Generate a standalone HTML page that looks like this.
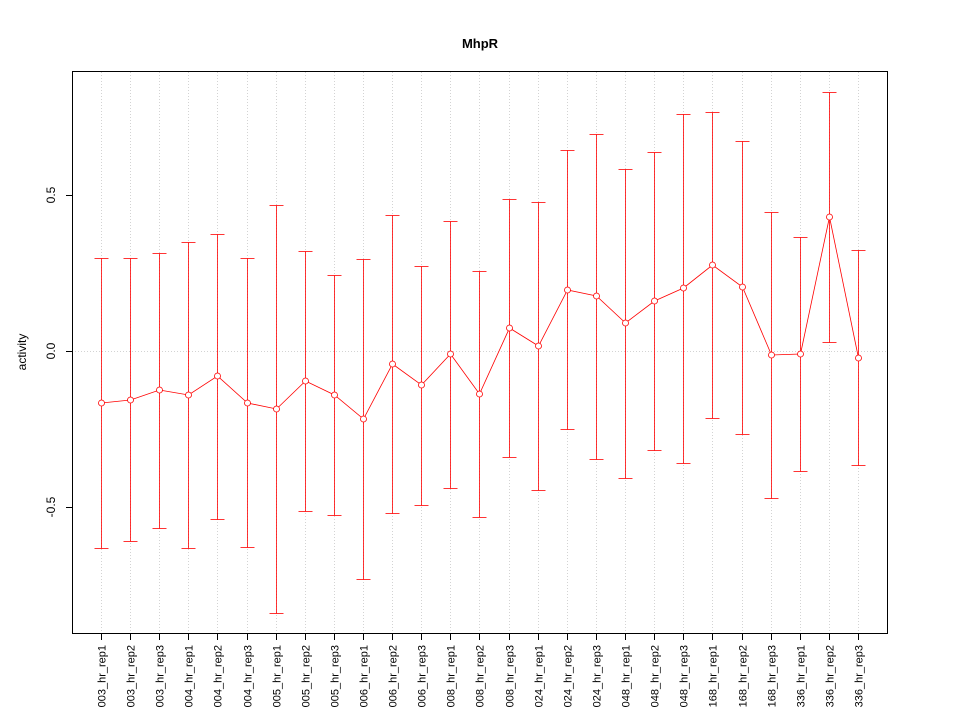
<!DOCTYPE html>
<html><head><style>body{margin:0;background:#fff}svg{display:block}text{font-family:"Liberation Sans",sans-serif}</style></head>
<body>
<svg id="s" width="960" height="720" xmlns="http://www.w3.org/2000/svg">
<rect width="960" height="720" fill="#fff"/>
<text x="480" y="48" text-anchor="middle" font-size="13" font-weight="bold">MhpR</text>
<text transform="translate(26,352) rotate(-90)" text-anchor="middle" font-size="12">activity</text>
<g id="g"></g>
<rect x="72.5" y="71.5" width="815" height="562" fill="none" stroke="#000"/>
</svg>
<script>
var labels=["003_hr_rep1","003_hr_rep2","003_hr_rep3","004_hr_rep1","004_hr_rep2","004_hr_rep3","005_hr_rep1","005_hr_rep2","005_hr_rep3","006_hr_rep1","006_hr_rep2","006_hr_rep3","008_hr_rep1","008_hr_rep2","008_hr_rep3","024_hr_rep1","024_hr_rep2","024_hr_rep3","048_hr_rep1","048_hr_rep2","048_hr_rep3","168_hr_rep1","168_hr_rep2","168_hr_rep3","336_hr_rep1","336_hr_rep2","336_hr_rep3"];
var d=[[403,258,548],[400,258,541],[390,253,528],[395,242,548],[376,234,519],[403,258,547],[409,205,613],[381,251,511],[395,275,515],[419,259,579],[364,215,513],[385,266,505],[354,221,488],[394,271,517],[328,199,457],[346,202,490],[290,150,429],[296,134,459],[323,169,478],[301,152,450],[288,114,463],[265,112,418],[287,141,434],[355,212,498],[354,237,471],[217,92,342],[358,250,465]];
var h='';
h+='<line x1="72" x2="888" y1="351.5" y2="351.5" stroke="#d3d3d3" stroke-dasharray="1,2"/>';
var pts=[];
function X(i){return Math.round(101+i*29.115)+0.5;}
for(var i=0;i<27;i++){var x=X(i);
h+='<line x1="'+x+'" x2="'+x+'" y1="72" y2="633" stroke="#d3d3d3" stroke-dasharray="1,2"/>';
h+='<line x1="'+x+'" x2="'+x+'" y1="634" y2="640" stroke="#000"/>';
h+='<text transform="translate('+(x+4)+',645) rotate(-90)" text-anchor="end" font-size="11">'+labels[i]+'</text>';
var p=d[i];pts.push(x+','+p[0]);
h+='<line x1="'+x+'" x2="'+x+'" y1="'+(p[1]+.5)+'" y2="'+(p[2]+.5)+'" stroke="red" stroke-width="0.8"/>';
h+='<line x1="'+(x-7)+'" x2="'+(x+7)+'" y1="'+(p[1]+.5)+'" y2="'+(p[1]+.5)+'" stroke="red" stroke-width="0.8"/>';
h+='<line x1="'+(x-7)+'" x2="'+(x+7)+'" y1="'+(p[2]+.5)+'" y2="'+(p[2]+.5)+'" stroke="red" stroke-width="0.8"/>';}
h+='<polyline points="'+pts.join(' ')+'" fill="none" stroke="red" stroke-width="0.8"/>';
for(var i=0;i<27;i++){var x=X(i);h+='<circle cx="'+x+'" cy="'+d[i][0]+'" r="3" fill="#fff" stroke="red" stroke-width="0.8"/>';}
[[0.5,195],[0.0,351],[-0.5,507]].forEach(function(t){h+='<line x1="66" x2="72" y1="'+(t[1]+.5)+'" y2="'+(t[1]+.5)+'" stroke="#000"/>';
h+='<text transform="translate(55,'+t[1]+') rotate(-90)" text-anchor="middle" font-size="12">'+t[0].toFixed(1)+'</text>';});
document.getElementById('g').innerHTML=h;
</script>
</body></html>
